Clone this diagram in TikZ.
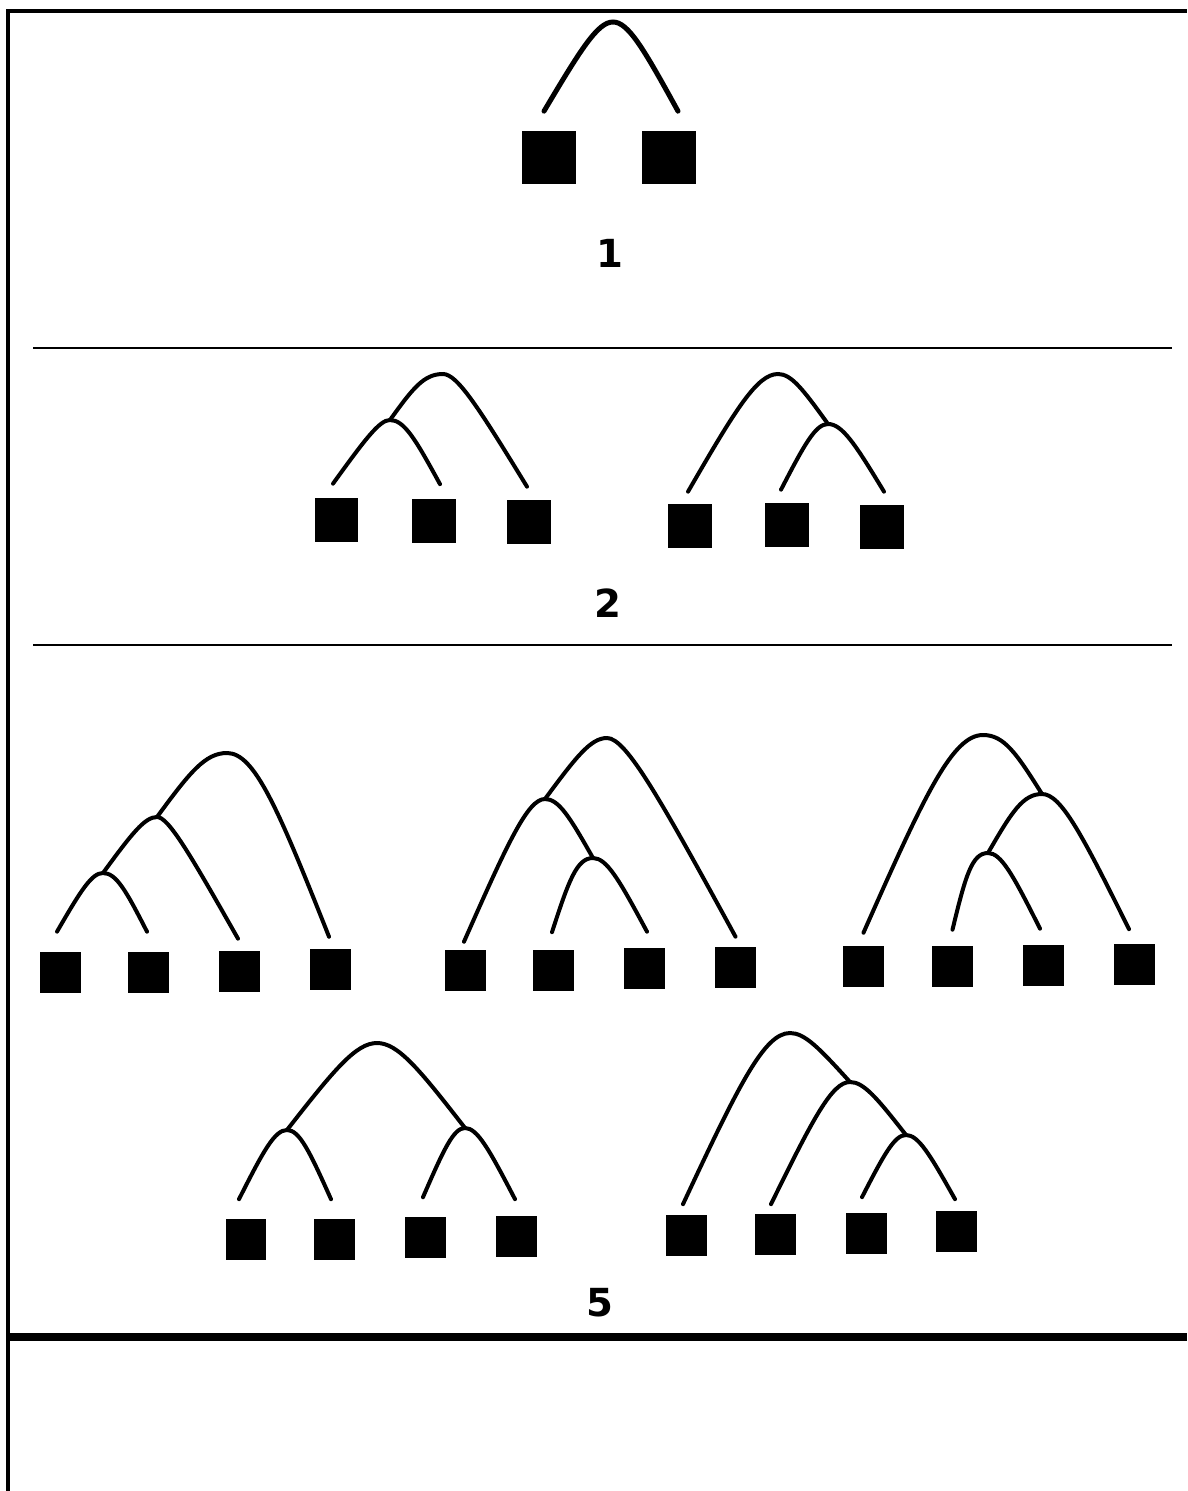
\documentclass[tikz,border=0pt]{standalone}
\usepackage{fontspec}
\setmainfont{DejaVu Sans}
\usepackage{tikz}
\usetikzlibrary{calc}

\begin{document}
\begin{tikzpicture}[
    x=0.02cm, y=-0.02cm,
    leaf/.style={rectangle, fill=black, inner sep=0pt, minimum size=#1},
    leaf/.default=0.82cm,
    bow/.style={line width=0.08cm, line cap=round},
    % #1 = how far left (rise) or right (fall) of the apex the flank line meets the top level
    rise/.style={to path={.. controls ($(\tikztostart)!0.7!([xshift=-#1]\tikztotarget)$) and ([xshift={-0.95*#1}]\tikztotarget) .. (\tikztotarget)}},
    fall/.style={to path={.. controls ([xshift={0.95*#1}]\tikztostart) and ($(\tikztotarget)!0.7!([xshift=#1]\tikztostart)$) .. (\tikztotarget)}},
    num/.style={font=\fontsize{22}{26}\selectfont\bfseries, inner sep=0pt},
    fence/.style={line width=0.08cm},
    divider/.style={line width=0.055cm}
]
\useasboundingbox (0,0) rectangle (1187,1491);

% Frame and separators
\draw[fence] (8,1491) |- (1187,11);
\draw[divider] (33,348) -- (1172,348);
\draw[divider] (33,645) -- (1172,645);
\draw[fence, line width=0.16cm] (8,1337) -- (1187,1337);

% Panel 1
\node[leaf=1.08cm] (s11) at (549,157.5) {};
\node[leaf=1.08cm] (s12) at (669,157.5) {};
\coordinate (t1) at (613,22);
\draw[bow, line width=0.1cm] ([xshift=-0.1cm,yshift=0.38cm]s11.north) to[rise=0.32cm] (t1) to[fall=0.32cm] ([xshift=0.18cm,yshift=0.38cm]s12.north);
\node[num] (n1) at (610,253) {1};

% Panel 2, left tree
\node[leaf=0.88cm] (s21) at (336.5,520) {};
\node[leaf=0.88cm] (s22) at (433.5,520.5) {};
\node[leaf=0.88cm] (s23) at (528.5,522) {};
\coordinate (u1) at (390,420);
\coordinate (u2) at (443,374);
\draw[bow] ([xshift=-0.07cm,yshift=0.28cm]s21.north) to[rise=0.22cm] (u1) to[fall=0.3cm] ([xshift=0.13cm,yshift=0.28cm]s22.north);
\draw[bow] (u1) to[rise=0.4cm] (u2) to[fall=0.3cm] ([xshift=-0.03cm,yshift=0.26cm]s23.north);

% Panel 2, right tree
\node[leaf=0.88cm] (s24) at (690,526) {};
\node[leaf=0.88cm] (s25) at (787,525) {};
\node[leaf=0.88cm] (s26) at (882,527) {};
\coordinate (v1) at (778,374);
\coordinate (v2) at (828,424);
\draw[bow] ([xshift=-0.04cm,yshift=0.24cm]s24.north) to[rise=0.44cm] (v1) to[fall=0.28cm] (v2);
\draw[bow] ([xshift=-0.12cm,yshift=0.26cm]s25.north) to[rise=0.26cm] (v2) to[fall=0.3cm] ([xshift=0.04cm,yshift=0.26cm]s26.north);
\node[num] (n2) at (608,603) {2};

% Panel 5, tree A
\node[leaf] (sa1) at (60.5,972.5) {};
\node[leaf] (sa2) at (148.5,972.5) {};
\node[leaf] (sa3) at (239.5,971) {};
\node[leaf] (sa4) at (330.5,969.5) {};
\coordinate (p1) at (103,873);
\coordinate (p2) at (157,817);
\coordinate (p3) at (227,753);
\draw[bow] ([xshift=-0.07cm,yshift=0.4cm]sa1.north) to[rise=0.24cm] (p1) to[fall=0.28cm] ([xshift=-0.03cm,yshift=0.4cm]sa2.north);
\draw[bow] (p1) to[rise=0.26cm] (p2) to[fall=0.24cm] ([xshift=-0.03cm,yshift=0.23cm]sa3.north);
\draw[bow] (p2) to[rise=0.46cm] (p3) to[fall=0.58cm] ([xshift=-0.03cm,yshift=0.24cm]sa4.north);

% Panel 5, tree B
\node[leaf] (sb1) at (465.5,970) {};
\node[leaf] (sb2) at (553.5,970) {};
\node[leaf] (sb3) at (644.5,968.5) {};
\node[leaf] (sb4) at (735.5,967.5) {};
\coordinate (q1) at (545,799);
\coordinate (q2) at (593,858);
\coordinate (q3) at (607,738);
\draw[bow] ([xshift=-0.03cm,yshift=0.15cm]sb1.north) to[rise=0.36cm] (q1) to[fall=0.29cm] (q2);
\draw[bow] ([xshift=-0.03cm,yshift=0.34cm]sb2.north) to[rise=0.34cm] (q2) to[fall=0.29cm] ([xshift=0.05cm,yshift=0.32cm]sb3.north);
\draw[bow] (q1) to[rise=0.34cm] (q3) to[fall=0.4cm] ([yshift=0.2cm]sb4.north);

% Panel 5, tree C
\node[leaf] (sc1) at (863.5,966.5) {};
\node[leaf] (sc2) at (952.5,966.5) {};
\node[leaf] (sc3) at (1043.5,965.5) {};
\node[leaf] (sc4) at (1134.5,964) {};
\coordinate (r1) at (983,735);
\coordinate (r2) at (1042,794);
\coordinate (r3) at (988,853);
\draw[bow] ([yshift=0.26cm]sc1.north) to[rise=0.64cm] (r1) to[fall=0.44cm] (r2);
\draw[bow] (r3) to[rise=0.4cm] (r2) to[fall=0.4cm] ([xshift=-0.11cm,yshift=0.28cm]sc4.north);
\draw[bow] ([yshift=0.32cm]sc2.north) to[rise=0.34cm] (r3) to[fall=0.28cm] ([xshift=-0.07cm,yshift=0.32cm]sc3.north);

% Panel 5, tree D
\node[leaf] (sd1) at (246,1239) {};
\node[leaf] (sd2) at (334,1239) {};
\node[leaf] (sd3) at (425,1237) {};
\node[leaf] (sd4) at (516,1236) {};
\coordinate (w1) at (287,1130);
\coordinate (w2) at (465,1128);
\coordinate (w3) at (377,1043);
\draw[bow] ([xshift=-0.14cm,yshift=0.38cm]sd1.north) to[rise=0.26cm] (w1) to[fall=0.26cm] ([xshift=-0.06cm,yshift=0.38cm]sd2.north);
\draw[bow] ([xshift=-0.04cm,yshift=0.38cm]sd3.north) to[rise=0.24cm] (w2) to[fall=0.26cm] ([xshift=-0.02cm,yshift=0.32cm]sd4.north);
\draw[bow] (w1) to[rise=0.44cm] (w3) to[fall=0.44cm] (w2);

% Panel 5, tree E
\node[leaf] (se1) at (686,1235) {};
\node[leaf] (se2) at (775,1234) {};
\node[leaf] (se3) at (866,1233) {};
\node[leaf] (se4) at (956,1231) {};
\coordinate (x1) at (790,1033);
\coordinate (x2) at (850,1082);
\coordinate (x3) at (906,1135);
\draw[bow] ([xshift=-0.06cm,yshift=0.2cm]se1.north) to[rise=0.54cm] (x1) to[fall=0.31cm] (x2);
\draw[bow] ([xshift=-0.08cm,yshift=0.18cm]se2.north) to[rise=0.38cm] (x2) to[fall=0.29cm] (x3);
\draw[bow] ([xshift=-0.08cm,yshift=0.3cm]se3.north) to[rise=0.24cm] (x3) to[fall=0.26cm] ([xshift=-0.02cm,yshift=0.22cm]se4.north);
\node[num] (n5) at (600,1303) {5};

\end{tikzpicture}
\end{document}
